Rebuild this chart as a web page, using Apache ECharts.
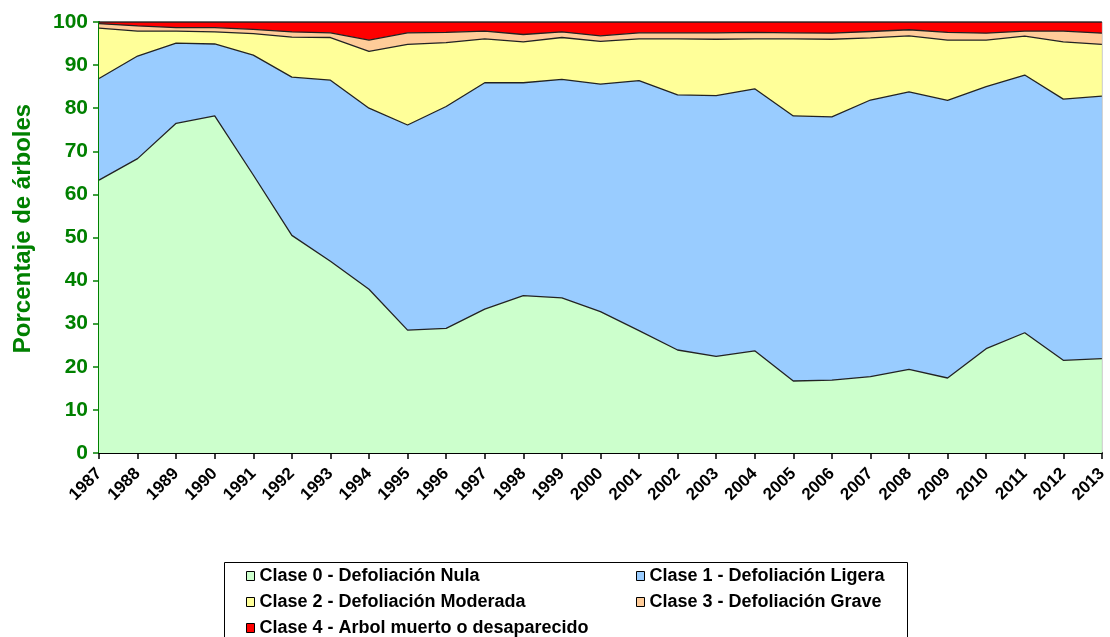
<!DOCTYPE html>
<html>
<head>
<meta charset="utf-8">
<script src="https://cdn.jsdelivr.net/npm/echarts@6/dist/echarts.min.js"></script>
<style>
  html, body { margin: 0; padding: 0; background: #fff; }
  #chart { width: 1110px; height: 637px; }
</style>
</head>
<body>
<div id="chart"></div>
<script>
// años
var years = ['1987','1988','1989','1990','1991','1992','1993','1994','1995','1996','1997','1998','1999',
  '2000','2001','2002','2003','2004','2005','2006','2007','2008','2009','2010','2011','2012','2013'];

var clase0 = [63.3, 68.3, 76.5, 78.2, 64.5, 50.5, 44.5, 38.0, 28.5, 28.9, 33.4, 36.5, 36.0,
  32.8, 28.4, 23.9, 22.4, 23.7, 16.7, 16.9, 17.7, 19.4, 17.4, 24.2, 27.9, 21.5, 21.9];
var clase1 = [23.6, 23.8, 18.6, 16.7, 27.8, 36.7, 42.0, 42.0, 47.6, 51.5, 52.5, 49.4, 50.7,
  52.8, 58.0, 59.2, 60.5, 60.8, 61.5, 61.1, 64.2, 64.4, 64.4, 60.8, 59.8, 60.6, 60.9];
var clase2 = [11.7, 5.8, 2.8, 2.8, 5.0, 9.3, 9.9, 13.2, 18.7, 14.8, 10.2, 9.5, 9.7,
  9.9, 9.7, 13.0, 13.1, 11.6, 17.9, 18.0, 14.4, 13.0, 14.0, 10.8, 9.0, 13.3, 12.0];
var clase3 = [1.0, 1.2, 0.8, 1.0, 1.0, 1.2, 1.1, 2.6, 2.7, 2.4, 1.8, 1.7, 1.3,
  1.3, 1.4, 1.4, 1.5, 1.5, 1.4, 1.4, 1.5, 1.4, 1.8, 1.6, 1.2, 2.5, 2.6];
var clase4 = [0.4, 0.9, 1.3, 1.3, 1.7, 2.3, 2.5, 4.2, 2.5, 2.4, 2.1, 2.9, 2.3,
  3.2, 2.5, 2.5, 2.5, 2.4, 2.5, 2.6, 2.2, 1.8, 2.4, 2.6, 2.1, 2.1, 2.6];

var names = ['Clase 0 - Defoliación Nula', 'Clase 1 - Defoliación Ligera', 'Clase 2 - Defoliación Moderada',
  'Clase 3 - Defoliación Grave', 'Clase 4 - Arbol muerto o desaparecido'];
var colors = ['#CCFFCC', '#99CCFF', '#FFFF99', '#FFCC99', '#FF0000'];
var valores = [clase0, clase1, clase2, clase3, clase4];

var series = [];
for (var i = 0; i < valores.length; i++) {
  series.push({
    name: names[i],
    type: 'line',
    stack: 'total',
    data: valores[i],
    symbol: 'none',
    smooth: false,
    lineStyle: { color: '#222', width: 1.3 },
    itemStyle: { color: colors[i], borderColor: '#000', borderWidth: 1 },
    areaStyle: { color: colors[i], opacity: 1 },
    emphasis: { disabled: true }
  });
}

var green = '#008000';
var legendText = { fontFamily: 'Liberation Sans', fontWeight: 'bold', fontSize: 18, color: '#000' };

// una leyenda por elemento, en dos columnas
var legendPos = [[246, 567], [636, 567], [246, 593], [636, 593], [246, 619]];
var legends = [];
for (var j = 0; j < names.length; j++) {
  legends.push({
    left: legendPos[j][0], top: legendPos[j][1], padding: 0,
    itemWidth: 8, itemHeight: 9, itemGap: 4, icon: 'rect',
    itemStyle: { borderColor: '#000', borderWidth: 1 },
    textStyle: legendText,
    data: [names[j]],
    selectedMode: false
  });
}

var myChart = echarts.init(document.getElementById('chart'));
myChart.setOption({
  backgroundColor: '#fff',
  animation: false,
  grid: { left: 99, right: 6, top: 22, bottom: 184, show: true, borderColor: '#888', borderWidth: 1, backgroundColor: 'transparent' },
  xAxis: {
    type: 'category',
    boundaryGap: false,
    data: years,
    axisLine: { lineStyle: { color: '#000', width: 2 } },
    axisTick: { show: true, alignWithLabel: true, length: 6, lineStyle: { color: '#000', width: 1.5 } },
    axisLabel: { rotate: 45, margin: 18, color: '#000', fontFamily: 'Liberation Sans', fontWeight: 'bold', fontSize: 17 }
  },
  yAxis: {
    type: 'value',
    min: 0, max: 100, interval: 10,
    name: 'Porcentaje de árboles',
    nameLocation: 'middle',
    nameGap: 64,
    nameTextStyle: { color: green, fontFamily: 'Liberation Sans', fontWeight: 'bold', fontSize: 24, padding: [0, 0, 0, 18] },
    axisLine: { show: true, lineStyle: { color: green, width: 2 } },
    axisTick: { show: true, length: 6, lineStyle: { color: green, width: 1.5 } },
    axisLabel: { color: green, fontFamily: 'Liberation Sans', fontWeight: 'bold', fontSize: 21, margin: 11 },
    splitLine: { show: false }
  },
  legend: legends,
  graphic: [
    { type: 'rect', left: 222, top: 560, shape: { width: 683, height: 90 },
      style: { fill: 'none', stroke: '#000', lineWidth: 1 }, z: -1 }
  ],
  series: series
});
</script>
</body>
</html>
